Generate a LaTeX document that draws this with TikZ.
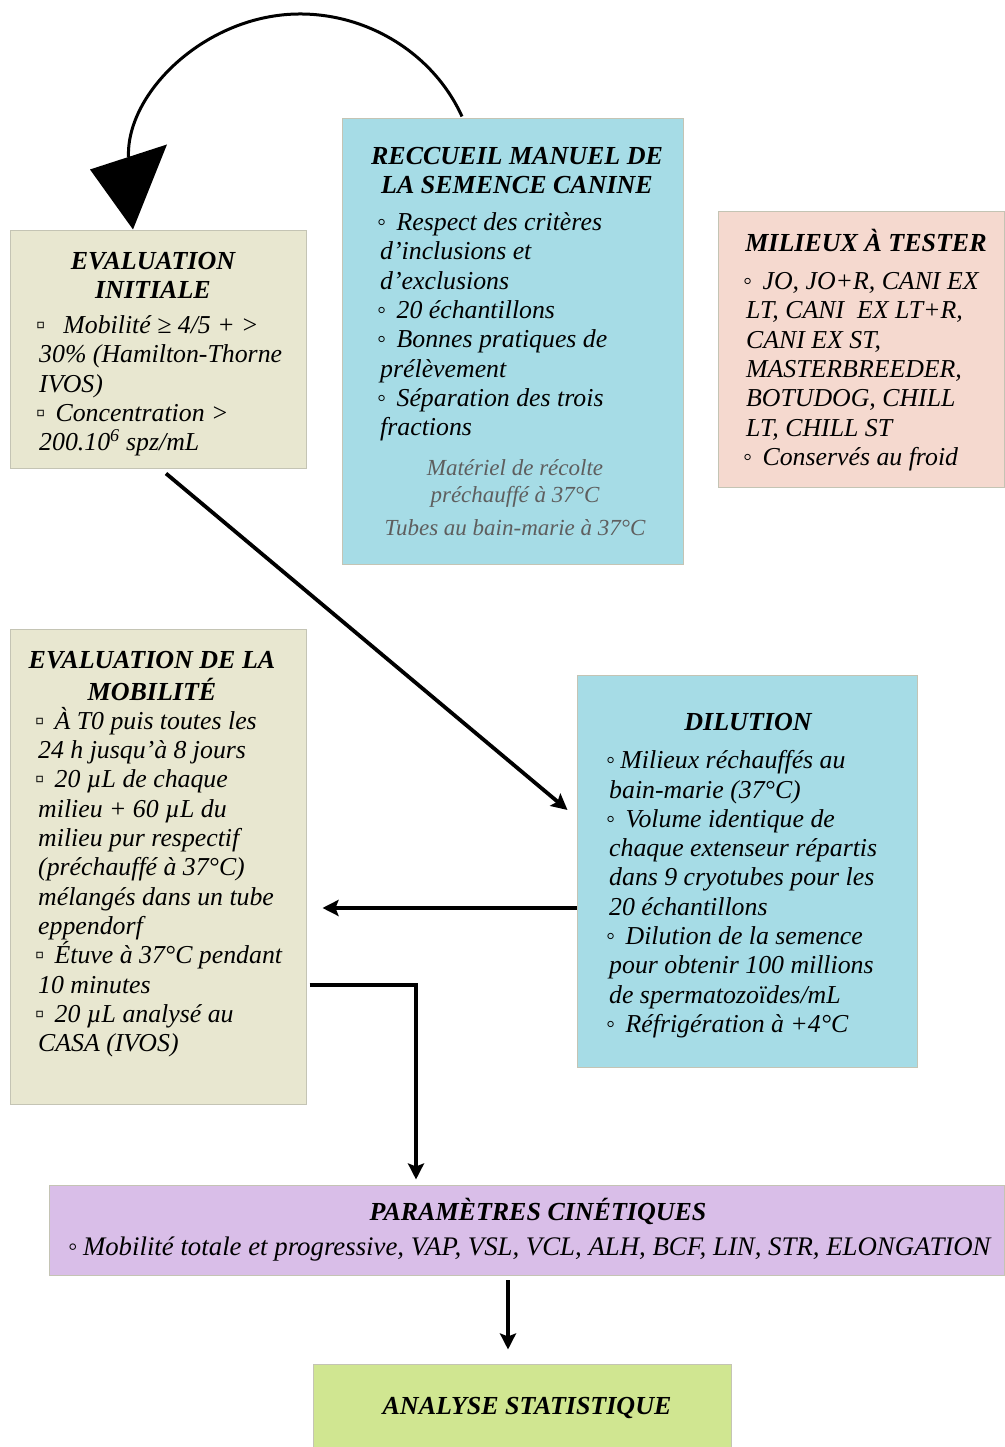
\documentclass[tikz,border=0pt]{standalone}
\usepackage{fontspec}
\setmainfont{Liberation Serif}
\usetikzlibrary{arrows.meta,calc}
\definecolor{beige}{HTML}{E8E7D0}
\definecolor{lblue}{HTML}{A6DCE6}
\definecolor{lpink}{HTML}{F5D9CF}
\definecolor{lpurple}{HTML}{D9BEE8}
\definecolor{lgreen}{HTML}{D0E691}
\definecolor{bordergray}{HTML}{C4C4B4}
\definecolor{subgray}{HTML}{5E5E5E}
\tikzset{
  box/.style={draw=bordergray, line width=1pt, inner sep=0, rectangle},
  ttl/.style={anchor=north, inner sep=0, align=center, font=\fontsize{26}{29.3}\selectfont\bfseries\itshape},
  body/.style={anchor=north west, inner sep=0, align=left, font=\fontsize{25.8}{29.3}\selectfont\itshape},
  conn/.style={line width=3.8pt, -{Stealth[length=16pt,width=16pt,inset=3pt]}},
}
\newcommand{\sq}{▫\hspace{0.4em}}
\newcommand{\ci}{◦\hspace{0.4em}}
\newcommand{\ct}{\hspace*{3pt}}
\begin{document}
\begin{tikzpicture}[x=1pt,y=1pt]
\useasboundingbox (0,0) rectangle (1004,1447);
% boxes
\node[box, fill=beige, minimum width=296, minimum height=238] (ei) at (158,1097) {};
\node[box, fill=lblue, minimum width=341, minimum height=446] (rec) at (512.5,1105) {};
\node[box, fill=lpink, minimum width=286, minimum height=276] (mil) at (861,1097) {};
\node[box, fill=beige, minimum width=296, minimum height=475] (em) at (158,579.5) {};
\node[box, fill=lblue, minimum width=340, minimum height=392] (dil) at (747,575) {};
\node[box, fill=lpurple, minimum width=955, minimum height=90] (par) at (526.5,216) {};
\node[box, fill=lgreen, minimum width=418, minimum height=90] (ana) at (522,37) {};
% EVALUATION INITIALE
\node[ttl] (eit) at (153,1198) {\strut EVALUATION\\INITIALE};
\node[body] (eib) at (36,1134) {\strut\sq\hspace{0.3em}Mobilité ≥ 4/5 + >\\
\ct 30\% (Hamilton-Thorne\\
\ct IVOS)\\
\sq Concentration >\\
\ct 200.10\textsuperscript{6} spz/mL};
% RECUEIL
\node[ttl] (rect) at (517,1303) {\strut RECCUEIL MANUEL DE\\LA SEMENCE CANINE};
\node[body] (recb) at (377,1237) {\strut\ci Respect des critères\\
\ct d’inclusions et\\
\ct d’exclusions\\
\ci 20 échantillons\\
\ci Bonnes pratiques de\\
\ct prélèvement\\
\ci Séparation des trois\\
\ct fractions};
\node[anchor=north, inner sep=0, align=center, text=subgray, font=\fontsize{23}{27}\selectfont\itshape] (recg) at (515,991) {\strut Matériel de récolte\\préchauffé à 37°C};
\node[anchor=north, inner sep=0, align=center, text=subgray, font=\fontsize{23}{27}\selectfont\itshape] (rech) at (515,931) {\strut Tubes au bain-marie à 37°C};
% MILIEUX
\node[ttl] (milt) at (866,1218) {\strut MILIEUX À TESTER};
\node[body] (milb) at (743,1178) {\strut\ci JO, JO+R, CANI EX\\
\ct LT, CANI \ EX LT+R,\\
\ct CANI EX ST,\\
\ct MASTERBREEDER,\\
\ct BOTUDOG, CHILL\\
\ct LT, CHILL ST\\
\ci Conservés au froid};
% EVALUATION MOBILITE
\node[ttl] (emt) at (152,799) {\strut EVALUATION DE LA\\MOBILITÉ};
\node[body] (emb) at (35,740) {\strut\sq À T0 puis toutes les\\
\ct 24 h jusqu’à 8 jours\\
\sq 20 µL de chaque\\
\ct milieu + 60 µL du\\
\ct milieu pur respectif\\
\ct (préchauffé à 37°C)\\
\ct mélangés dans un tube\\
\ct eppendorf\\
\sq Étuve à 37°C pendant\\
\ct 10 minutes\\
\sq 20 µL analysé au\\
\ct CASA (IVOS)};
% DILUTION
\node[ttl] (dilt) at (748,737) {\strut DILUTION};
\node[body] (dilb) at (606,699) {\strut ◦\hspace{0.2em}Milieux réchauffés au\\
\ct bain-marie (37°C)\\
\ci Volume identique de\\
\ct chaque extenseur répartis\\
\ct dans 9 cryotubes pour les\\
\ct 20 échantillons\\
\ci Dilution de la semence\\
\ct pour obtenir 100 millions\\
\ct de spermatozoïdes/mL\\
\ci Réfrigération à +4°C};
% PARAMETRES
\node[ttl] (part) at (538,249) {\strut PARAMÈTRES CINÉTIQUES};
\node[anchor=north west, inner sep=0, font=\fontsize{26.8}{29}\selectfont\itshape] (parb) at (68,212) {\strut ◦\hspace{0.2em}Mobilité totale et progressive, VAP, VSL, VCL, ALH, BCF, LIN, STR, ELONGATION};
% ANALYSE
\node[ttl] (anat) at (527,53) {\strut ANALYSE STATISTIQUE};
% connectors
\draw[line width=3pt]
  ($(rec.north)+(-50.5,2)$) .. controls (433.7,1392.8) and (369,1433) .. (300,1433)
  .. controls (207,1433) and (126,1355) .. ($(ei.north)+(-29.5,73.5)$) coordinate (arcend);
\fill ($(ei.north)+(-25,1)$) -- ($(ei.north)+(-68,61)$) -- ($(ei.north)+(9,86)$) -- cycle;
\draw[conn] ($(ei.south)+(8,-4)$) -- ($(dil.west)+(-9,62)$);
\draw[conn] ($(dil.west)+(0,-36)$) -- ($(em.east)+(16,-40.5)$);
\draw[conn] ($(em.east)+(3,-117.5)$) -| ($(par.north)+(-110.5,6)$);
\draw[conn] ($(par.south)+(-18.5,-4)$) -- ($(ana.north)+(-14,15)$);
\end{tikzpicture}
\end{document}
